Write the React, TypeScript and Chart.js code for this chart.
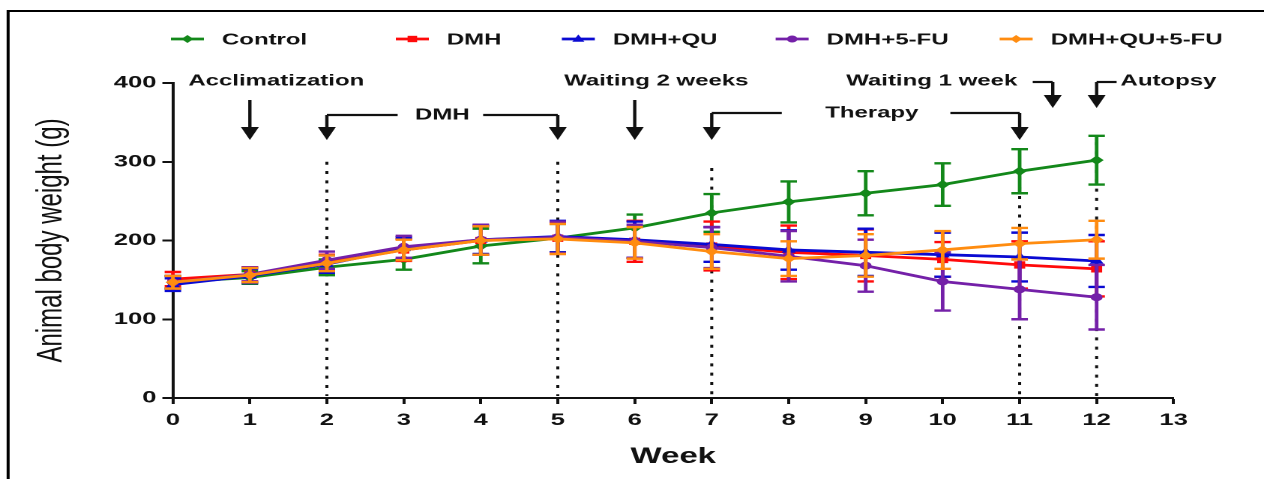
import React, { useEffect, useRef } from 'react';
import { Chart, registerables } from 'chart.js';

Chart.register(...registerables);

// ---------------- data ----------------
const weeks = [0, 1, 2, 3, 4, 5, 6, 7, 8, 9, 10, 11, 12];
const xTickValues = [0, 1, 2, 3, 4, 5, 6, 7, 8, 9, 10, 11, 12, 13];
const yTickValues = [0, 100, 200, 300, 400];

const seriesNames = ['Control', 'DMH', 'DMH+QU', 'DMH+5-FU', 'DMH+QU+5-FU'];

const controlMean = [147, 153, 166, 176, 193, 203, 216, 235, 249, 260, 271, 288, 302];
const controlSD = [8, 8, 10, 13, 22, 18, 17, 24, 26, 28, 27, 28, 31];

const dmhMean = [151, 157, 172, 188, 200, 203, 199, 193, 185, 181, 176, 169, 164];
const dmhSD = [9, 9, 10, 14, 18, 20, 26, 31, 34, 33, 22, 30, 35];

const dmhQuMean = [144, 155, 170, 190, 201, 205, 201, 195, 188, 185, 182, 179, 174];
const dmhQuSD = [8, 9, 11, 14, 18, 20, 23, 22, 25, 30, 28, 31, 33];

const dmhFuMean = [147, 157, 175, 192, 201, 204, 199, 191, 180, 168, 148, 138, 128];
const dmhFuSD = [8, 9, 11, 14, 19, 20, 21, 26, 32, 33, 37, 38, 41];

const dmhQuFuMean = [147, 156, 171, 188, 200, 202, 197, 186, 177, 181, 188, 196, 201];
const dmhQuFuSD = [8, 9, 10, 13, 18, 19, 20, 22, 22, 27, 24, 20, 24];

const allMeans = [controlMean, dmhMean, dmhQuMean, dmhFuMean, dmhQuFuMean];
const allSDs = [controlSD, dmhSD, dmhQuSD, dmhFuSD, dmhQuFuSD];

const seriesColors = ['#13881a', '#ff0a0a', '#0a0ad2', '#7420a8', '#ff8c10'];
const seriesShapes = ['rectRot', 'rect', 'triangle', 'circle', 'rectRot'];
const seriesRadius = [4, 4.5, 4.5, 3.5, 4];

// phase annotations (weeks)
const dottedWeeks = [2, 5, 7, 11, 12];
const dottedTops = [300, 300, 292, 292, 325];

const FONT = "'Liberation Sans', Arial, Helvetica, sans-serif";
const STRETCH = 1264 / 843;

// ---------------- drawing helpers ----------------
function drawMarker(ctx: CanvasRenderingContext2D, shape: string, x: number, y: number, r: number) {
  ctx.beginPath();
  if (shape === 'rectRot') {
    ctx.moveTo(x, y - r);
    ctx.lineTo(x + r, y);
    ctx.lineTo(x, y + r);
    ctx.lineTo(x - r, y);
    ctx.closePath();
  } else if (shape === 'rect') {
    const s = r * Math.SQRT1_2;
    ctx.rect(x - s, y - s, 2 * s, 2 * s);
  } else if (shape === 'triangle') {
    ctx.moveTo(x, y - r);
    ctx.lineTo(x + r * 0.9, y + r * 0.6);
    ctx.lineTo(x - r * 0.9, y + r * 0.6);
    ctx.closePath();
  } else {
    ctx.arc(x, y, r, 0, Math.PI * 2);
  }
  ctx.fill();
}

function downArrow(ctx: CanvasRenderingContext2D, x: number, yTop: number, yTip: number) {
  const headH = 13;
  const headW = 6;
  ctx.beginPath();
  ctx.moveTo(x, yTop);
  ctx.lineTo(x, yTip - headH + 1);
  ctx.stroke();
  ctx.beginPath();
  ctx.moveTo(x - headW, yTip - headH);
  ctx.lineTo(x + headW, yTip - headH);
  ctx.lineTo(x, yTip);
  ctx.closePath();
  ctx.fill();
}

const errorBarPlugin = {
  id: 'errorBars',
  beforeDatasetDraw(chart: any, args: any) {
    const i = args.index;
    const ctx: CanvasRenderingContext2D = chart.ctx;
    const ys = chart.scales.y;
    const meta = chart.getDatasetMeta(i);
    ctx.save();
    ctx.strokeStyle = seriesColors[i];
    ctx.lineWidth = 2.4;
    ctx.lineCap = 'butt';
    meta.data.forEach((pt: any, j: number) => {
      const m = allMeans[i][j];
      const sd = allSDs[i][j];
      const yt = ys.getPixelForValue(m + sd);
      const yb = ys.getPixelForValue(m - sd);
      const cw = 5.5;
      ctx.beginPath();
      ctx.moveTo(pt.x, yt);
      ctx.lineTo(pt.x, yb);
      ctx.moveTo(pt.x - cw, yt);
      ctx.lineTo(pt.x + cw, yt);
      ctx.moveTo(pt.x - cw, yb);
      ctx.lineTo(pt.x + cw, yb);
      ctx.stroke();
    });
    ctx.restore();
  },
};

const dottedPlugin = {
  id: 'dotted',
  beforeDatasetsDraw(chart: any) {
    const ctx: CanvasRenderingContext2D = chart.ctx;
    const xs = chart.scales.x;
    const ys = chart.scales.y;
    ctx.save();
    ctx.strokeStyle = '#111';
    ctx.lineWidth = 2;
    ctx.setLineDash([3, 6.3]);
    dottedWeeks.forEach((w, k) => {
      const x = xs.getPixelForValue(w);
      ctx.beginPath();
      ctx.moveTo(x, ys.getPixelForValue(dottedTops[k]));
      ctx.lineTo(x, ys.getPixelForValue(0) - 2);
      ctx.stroke();
    });
    ctx.restore();
  },
};

const headerPlugin = {
  id: 'header',
  afterDraw(chart: any) {
    const ctx: CanvasRenderingContext2D = chart.ctx;
    const xs = chart.scales.x;
    const px = (w: number) => xs.getPixelForValue(w);
    ctx.save();

    // frame
    ctx.strokeStyle = '#000';
    ctx.lineWidth = 2;
    ctx.beginPath();
    ctx.moveTo(5.4, chart.height + 2);
    ctx.lineTo(5.4, 11);
    ctx.lineTo(chart.width + 2, 11);
    ctx.stroke();

    // legend
    const legendStarts = [114, 264, 374.7, 517.3, 666.7];
    const ly = 39;
    ctx.font = `bold 16px ${FONT}`;
    ctx.textBaseline = 'middle';
    ctx.textAlign = 'left';
    seriesNames.forEach((name, i) => {
      const x0 = legendStarts[i];
      ctx.strokeStyle = seriesColors[i];
      ctx.fillStyle = seriesColors[i];
      ctx.lineWidth = 2.8;
      ctx.beginPath();
      ctx.moveTo(x0, ly);
      ctx.lineTo(x0 + 22, ly);
      ctx.stroke();
      drawMarker(ctx, seriesShapes[i], x0 + 11, ly, seriesRadius[i]);
      ctx.fillStyle = '#111';
      ctx.fillText(name, x0 + 34, ly + 1);
    });

    // annotations
    ctx.fillStyle = '#111';
    ctx.strokeStyle = '#111';
    ctx.lineWidth = 2.2;
    ctx.lineJoin = 'miter';
    ctx.font = `bold 16px ${FONT}`;
    ctx.textBaseline = 'middle';

    ctx.textAlign = 'left';
    ctx.fillText('Acclimatization', px(0.2), 81);
    downArrow(ctx, px(1), 100, 140);

    // DMH bracket
    ctx.textAlign = 'center';
    ctx.fillText('DMH', px(3.5), 115);
    ctx.beginPath();
    ctx.moveTo(px(2.92), 115);
    ctx.lineTo(px(2), 115);
    ctx.stroke();
    downArrow(ctx, px(2), 115, 140);
    ctx.beginPath();
    ctx.moveTo(px(4.03), 115);
    ctx.lineTo(px(5), 115);
    ctx.stroke();
    downArrow(ctx, px(5), 115, 140);

    ctx.fillText('Waiting 2 weeks', px(6.28), 81);
    downArrow(ctx, px(6), 100, 140);

    // Therapy bracket
    ctx.fillText('Therapy', px(9.08), 113);
    ctx.beginPath();
    ctx.moveTo(px(7.91), 113);
    ctx.lineTo(px(7), 113);
    ctx.stroke();
    downArrow(ctx, px(7), 113, 140);
    ctx.beginPath();
    ctx.moveTo(px(10.1), 113);
    ctx.lineTo(px(11), 113);
    ctx.stroke();
    downArrow(ctx, px(11), 113, 140);

    // Waiting 1 week
    ctx.textAlign = 'right';
    ctx.fillText('Waiting 1 week', px(10.97), 81);
    ctx.beginPath();
    ctx.moveTo(px(11.17), 82);
    ctx.lineTo(px(11.43), 82);
    ctx.stroke();
    downArrow(ctx, px(11.43), 82, 108);

    // Autopsy
    ctx.textAlign = 'left';
    ctx.fillText('Autopsy', px(12.31), 81);
    ctx.beginPath();
    ctx.moveTo(px(12.26), 82);
    ctx.lineTo(px(12), 82);
    ctx.stroke();
    downArrow(ctx, px(12), 82, 108);

    ctx.restore();
  },
};

// ---------------- component ----------------
export default function App() {
  const canvasRef = useRef<HTMLCanvasElement | null>(null);

  useEffect(() => {
    const canvas = canvasRef.current;
    if (!canvas) return;

    const datasets = seriesNames.map((name, i) => ({
      label: name,
      data: weeks.map((w, j) => ({ x: w, y: allMeans[i][j] })),
      borderColor: seriesColors[i],
      backgroundColor: seriesColors[i],
      borderWidth: 2.8,
      pointStyle: seriesShapes[i],
      pointRadius: seriesRadius[i],
      pointBorderWidth: 1,
      pointBorderColor: seriesColors[i],
      pointBackgroundColor: seriesColors[i],
      tension: 0,
      order: seriesNames.length - i,
      clip: false as any,
    }));

    const tickFont = { family: FONT, weight: 'bold' as const };

    const chart = new Chart(canvas, {
      type: 'line',
      data: { datasets: datasets as any },
      options: {
        animation: false,
        responsive: true,
        maintainAspectRatio: false,
        devicePixelRatio: 2,
        layout: { padding: { left: 0, right: 60.3, top: 83, bottom: 0 } },
        plugins: {
          legend: { display: false },
          tooltip: { enabled: false },
        },
        scales: {
          x: {
            type: 'linear',
            min: 0,
            max: 13,
            afterBuildTicks: (s: any) => {
              s.ticks = xTickValues.map((v) => ({ value: v }));
            },
            afterFit: (s: any) => {
              s.height = 81;
            },
            ticks: {
              autoSkip: false,
              maxRotation: 0,
              color: '#111',
              padding: 6,
              font: { ...tickFont, size: 17 },
            },
            grid: {
              drawOnChartArea: false,
              drawTicks: true,
              tickLength: 6,
              tickWidth: 2,
              tickColor: '#111',
            },
            border: { display: true, color: '#111', width: 2 },
            title: {
              display: true,
              text: 'Week',
              color: '#111',
              font: { family: FONT, size: 22, weight: 'bold' },
              padding: { top: 0, bottom: 9 },
            },
          },
          y: {
            type: 'linear',
            min: 0,
            max: 400,
            afterBuildTicks: (s: any) => {
              s.ticks = yTickValues.map((v) => ({ value: v }));
            },
            afterFit: (s: any) => {
              s.width = 115.3;
            },
            ticks: {
              color: '#111',
              padding: 4,
              font: { ...tickFont, size: 17 },
            },
            grid: {
              drawOnChartArea: false,
              drawTicks: true,
              tickLength: 7,
              tickWidth: 2,
              tickColor: '#111',
            },
            border: { display: true, color: '#111', width: 2 },
            title: {
              display: true,
              text: 'Animal body weight (g)',
              color: '#111',
              font: { family: FONT, size: 24, weight: 'normal' },
              padding: { top: 20, bottom: 0 },
            },
          },
        },
      },
      plugins: [dottedPlugin, errorBarPlugin, headerPlugin],
    });

    return () => {
      chart.destroy();
    };
  }, []);

  return (
    <div
      style={{
        position: 'fixed',
        left: 0,
        top: 0,
        width: 1264,
        height: 479,
        background: '#ffffff',
        overflow: 'hidden',
      }}
    >
      <div
        style={{
          position: 'absolute',
          left: 0,
          top: 0,
          width: 843,
          height: 479,
          transform: `scaleX(${STRETCH})`,
          transformOrigin: '0 0',
        }}
      >
        <canvas ref={canvasRef} />
      </div>
    </div>
  );
}
